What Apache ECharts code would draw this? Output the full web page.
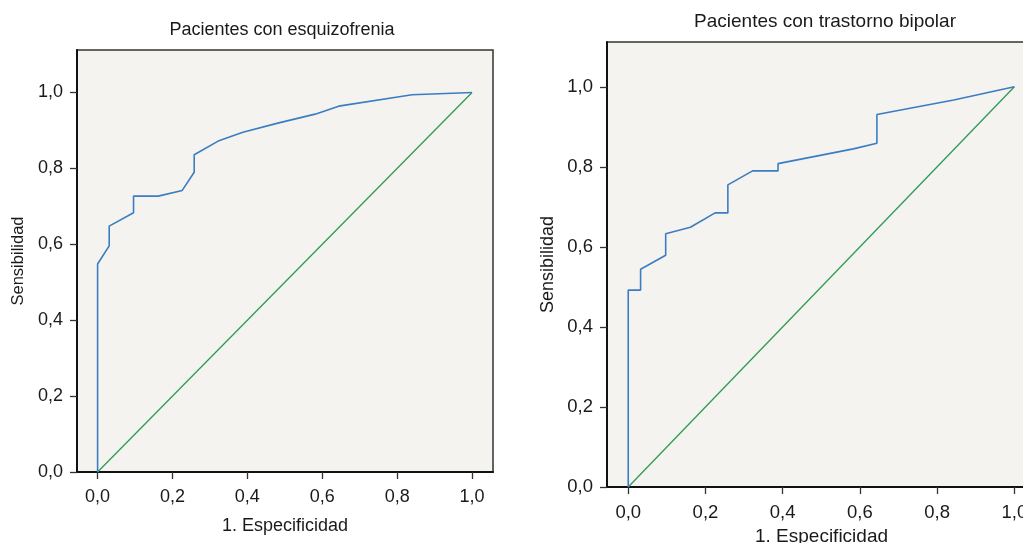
<!DOCTYPE html>
<html>
<head>
<meta charset="utf-8">
<script src="https://cdn.jsdelivr.net/npm/echarts@6/dist/echarts.min.js"></script>
<style>
html,body{margin:0;padding:0;background:#fff;}
#c{width:1023px;height:543px;}
</style>
</head>
<body>
<div id="c"></div>
<script>
// ---- Data ----
const titles = ['Pacientes con esquizofrenia', 'Pacientes con trastorno bipolar'];
const xName = '1. Especificidad';
const yName = 'Sensibilidad';
const tickValues = [0, 0.2, 0.4, 0.6, 0.8, 1.0];

// ROC curve – schizophrenia
const schizoFPR = [0, 0, 0.031, 0.031, 0.096, 0.096, 0.162, 0.226, 0.258, 0.258, 0.322, 0.388, 0.484, 0.581, 0.644, 0.840, 1.0];
const schizoTPR = [0, 0.548, 0.596, 0.648, 0.683, 0.727, 0.727, 0.742, 0.790, 0.836, 0.872, 0.895, 0.920, 0.943, 0.964, 0.994, 1.0];

// ROC curve – bipolar disorder
const bipolarFPR = [0, 0, 0.032, 0.032, 0.097, 0.097, 0.161, 0.225, 0.258, 0.258, 0.322, 0.388, 0.388, 0.583, 0.644, 0.644, 0.843, 1.0];
const bipolarTPR = [0, 0.492, 0.492, 0.544, 0.579, 0.633, 0.649, 0.685, 0.685, 0.755, 0.790, 0.790, 0.808, 0.845, 0.859, 0.931, 0.967, 1.0];

// Reference diagonal
const diagX = [0, 1];
const diagY = [0, 1];

// ---- Build ----
const zip = (a, b) => a.map((v, i) => [v, b[i]]);
const fmt = v => v.toFixed(1).replace('.', ',');
const FONT = '"Liberation Sans", Arial, Helvetica, sans-serif';
const TXT = '#1a1a1a';

const grids = [
  {left: 77, top: 50, width: 416, height: 422},
  {left: 607, top: 42, width: 429, height: 445}
];
const tickFs = [18, 18.5];
const xNameFs = [18, 19];
const yNameFs = [16.5, 18];
const xNameGap = [45, 39];
const yNameGap = [50, 50];

function xAxis(i) {
  return {
    type: 'value', gridIndex: i, min: -0.055, max: 1.056,
    name: xName, nameLocation: 'middle', nameGap: xNameGap[i],
    nameTextStyle: {fontFamily: FONT, fontSize: xNameFs[i], color: TXT},
    axisLine: {show: true, onZero: false, lineStyle: {color: '#111', width: 2}},
    axisTick: {show: true, customValues: tickValues, length: 7, lineStyle: {color: '#333', width: 1.3}},
    axisLabel: {customValues: tickValues, formatter: fmt, margin: 16, fontFamily: FONT, fontSize: tickFs[i], color: TXT},
    splitLine: {show: false}
  };
}
function yAxis(i) {
  return {
    type: 'value', gridIndex: i, min: 0, max: 1.112,
    name: yName, nameLocation: 'middle', nameGap: yNameGap[i], nameRotate: 90,
    nameTextStyle: {fontFamily: FONT, fontSize: yNameFs[i], color: TXT},
    axisLine: {show: true, onZero: false, lineStyle: {color: '#111', width: 2}},
    axisTick: {show: true, customValues: tickValues, length: 7, lineStyle: {color: '#333', width: 1.3}},
    axisLabel: {customValues: tickValues, formatter: fmt, margin: 14, fontFamily: FONT, fontSize: tickFs[i], color: TXT},
    splitLine: {show: false}
  };
}

const rocStyle = {color: '#3b7dc2', width: 1.6};
const diagStyle = {color: '#2e9b55', width: 1.3};

const option = {
  animation: false,
  backgroundColor: '#ffffff',
  grid: grids.map(g => Object.assign({show: true, backgroundColor: '#f4f3ef', borderColor: '#333', borderWidth: 1.5, outerBoundsMode: 'none', containLabel: false}, g)),
  xAxis: [xAxis(0), xAxis(1)],
  yAxis: [yAxis(0), yAxis(1)],
  graphic: [
    {type: 'text', x: 282, y: 30, style: {text: titles[0], fill: TXT, font: '18px ' + FONT, textAlign: 'center', textVerticalAlign: 'middle'}},
    {type: 'text', x: 825, y: 21.5, style: {text: titles[1], fill: TXT, font: '19px ' + FONT, textAlign: 'center', textVerticalAlign: 'middle'}}
  ],
  series: [
    {type: 'line', xAxisIndex: 0, yAxisIndex: 0, data: zip(diagX, diagY), symbol: 'none', lineStyle: diagStyle, z: 2},
    {type: 'line', xAxisIndex: 0, yAxisIndex: 0, data: zip(schizoFPR, schizoTPR), symbol: 'none', lineStyle: rocStyle, z: 3},
    {type: 'line', xAxisIndex: 1, yAxisIndex: 1, data: zip(diagX, diagY), symbol: 'none', lineStyle: diagStyle, z: 2},
    {type: 'line', xAxisIndex: 1, yAxisIndex: 1, data: zip(bipolarFPR, bipolarTPR), symbol: 'none', lineStyle: rocStyle, z: 3}
  ]
};

const chart = echarts.init(document.getElementById('c'), null, {renderer: 'canvas'});
chart.setOption(option);
</script>
</body>
</html>
